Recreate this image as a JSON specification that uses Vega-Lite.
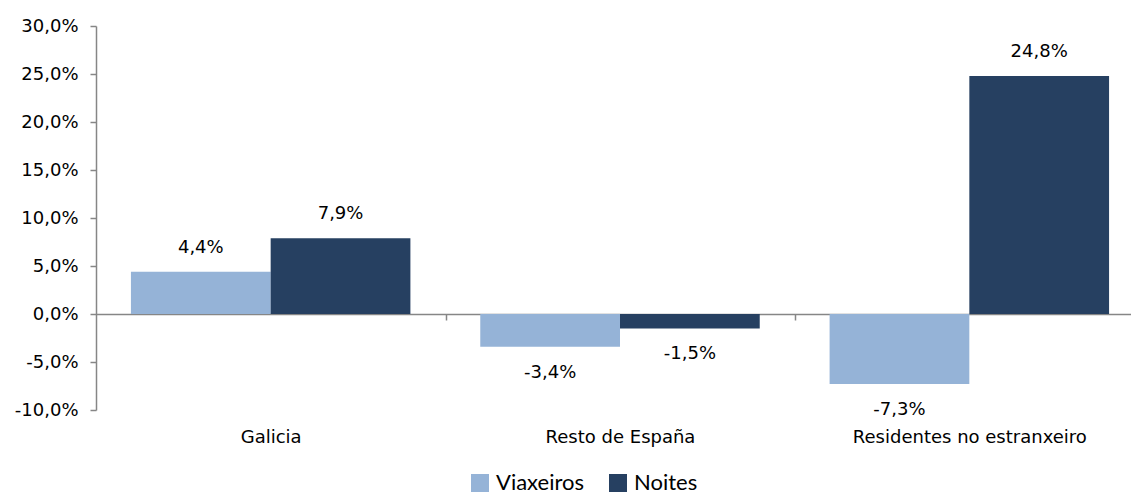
{
  "$schema": "https://vega.github.io/schema/vega-lite/v6.json",
  "width": 1035,
  "height": 384,
  "autosize": {"type": "none"},
  "padding": {"left": 96, "top": 26, "right": 0, "bottom": 86},
  "config": {
    "locale": {"number": {"decimal": ",", "thousands": ".", "grouping": [3], "currency": ["", " €"], "minus": "-"}},
    "view": {"stroke": null},
    "font": "DejaVu Sans"
  },
  "data": {
    "values": [
      {"categoria": "Galicia", "serie": "Viaxeiros", "valor": 0.044},
      {"categoria": "Galicia", "serie": "Noites", "valor": 0.079},
      {"categoria": "Resto de España", "serie": "Viaxeiros", "valor": -0.034},
      {"categoria": "Resto de España", "serie": "Noites", "valor": -0.015},
      {"categoria": "Residentes no estranxeiro", "serie": "Viaxeiros", "valor": -0.073},
      {"categoria": "Residentes no estranxeiro", "serie": "Noites", "valor": 0.248}
    ]
  },
  "encoding": {
    "x": {
      "field": "categoria",
      "type": "nominal",
      "sort": ["Galicia", "Resto de España", "Residentes no estranxeiro"],
      "scale": {"range": [0, 1048], "paddingInner": 0.2, "paddingOuter": 0.1},
      "axis": {
        "title": null,
        "orient": "bottom",
        "offset": -96,
        "tickOffset": 175,
        "labelOffset": -175,
        "labelPadding": 108,
        "labelAngle": 0,
        "labelLimit": 400,
        "labelFontSize": 18,
        "labelColor": "#000000",
        "domainColor": "#868686",
        "domainWidth": 1.5,
        "tickColor": "#868686",
        "tickWidth": 1.5,
        "tickSize": 6
      }
    },
    "xOffset": {"field": "serie", "sort": ["Viaxeiros", "Noites"], "scale": {"paddingInner": 0, "paddingOuter": 0}},
    "y": {
      "field": "valor",
      "type": "quantitative",
      "scale": {"domain": [-0.1, 0.3], "nice": false, "zero": false},
      "axis": {
        "title": null,
        "grid": false,
        "values": [-0.1, -0.05, 0, 0.05, 0.1, 0.15, 0.2, 0.25, 0.3],
        "format": ".1%",
        "labelFontSize": 18,
        "labelColor": "#000000",
        "labelPadding": 12,
        "domainColor": "#868686",
        "domainWidth": 1.5,
        "tickColor": "#868686",
        "tickWidth": 1.5,
        "tickSize": 6
      }
    }
  },
  "layer": [
    {
      "mark": {"type": "bar"},
      "encoding": {
        "color": {
          "field": "serie",
          "type": "nominal",
          "scale": {"domain": ["Viaxeiros", "Noites"], "range": ["#95B3D7", "#264061"]},
          "legend": {
            "orient": "none",
            "legendX": 373,
            "legendY": 446,
            "direction": "horizontal",
            "title": null,
            "symbolType": "square",
            "symbolSize": 324,
            "symbolOpacity": 1,
            "symbolStrokeWidth": 0,
            "labelFontSize": 22,
            "labelFont": "Lato",
            "labelColor": "#000000",
            "labelOffset": 5,
            "columnPadding": 22
          }
        }
      }
    },
    {
      "transform": [{"filter": "datum.valor >= 0"}],
      "mark": {"type": "text", "dy": -24, "fontSize": 18, "color": "#000000"},
      "encoding": {"text": {"field": "valor", "type": "quantitative", "format": ".1%"}}
    },
    {
      "transform": [{"filter": "datum.valor < 0"}],
      "mark": {"type": "text", "dy": 26, "fontSize": 18, "color": "#000000"},
      "encoding": {"text": {"field": "valor", "type": "quantitative", "format": ".1%"}}
    }
  ]
}
